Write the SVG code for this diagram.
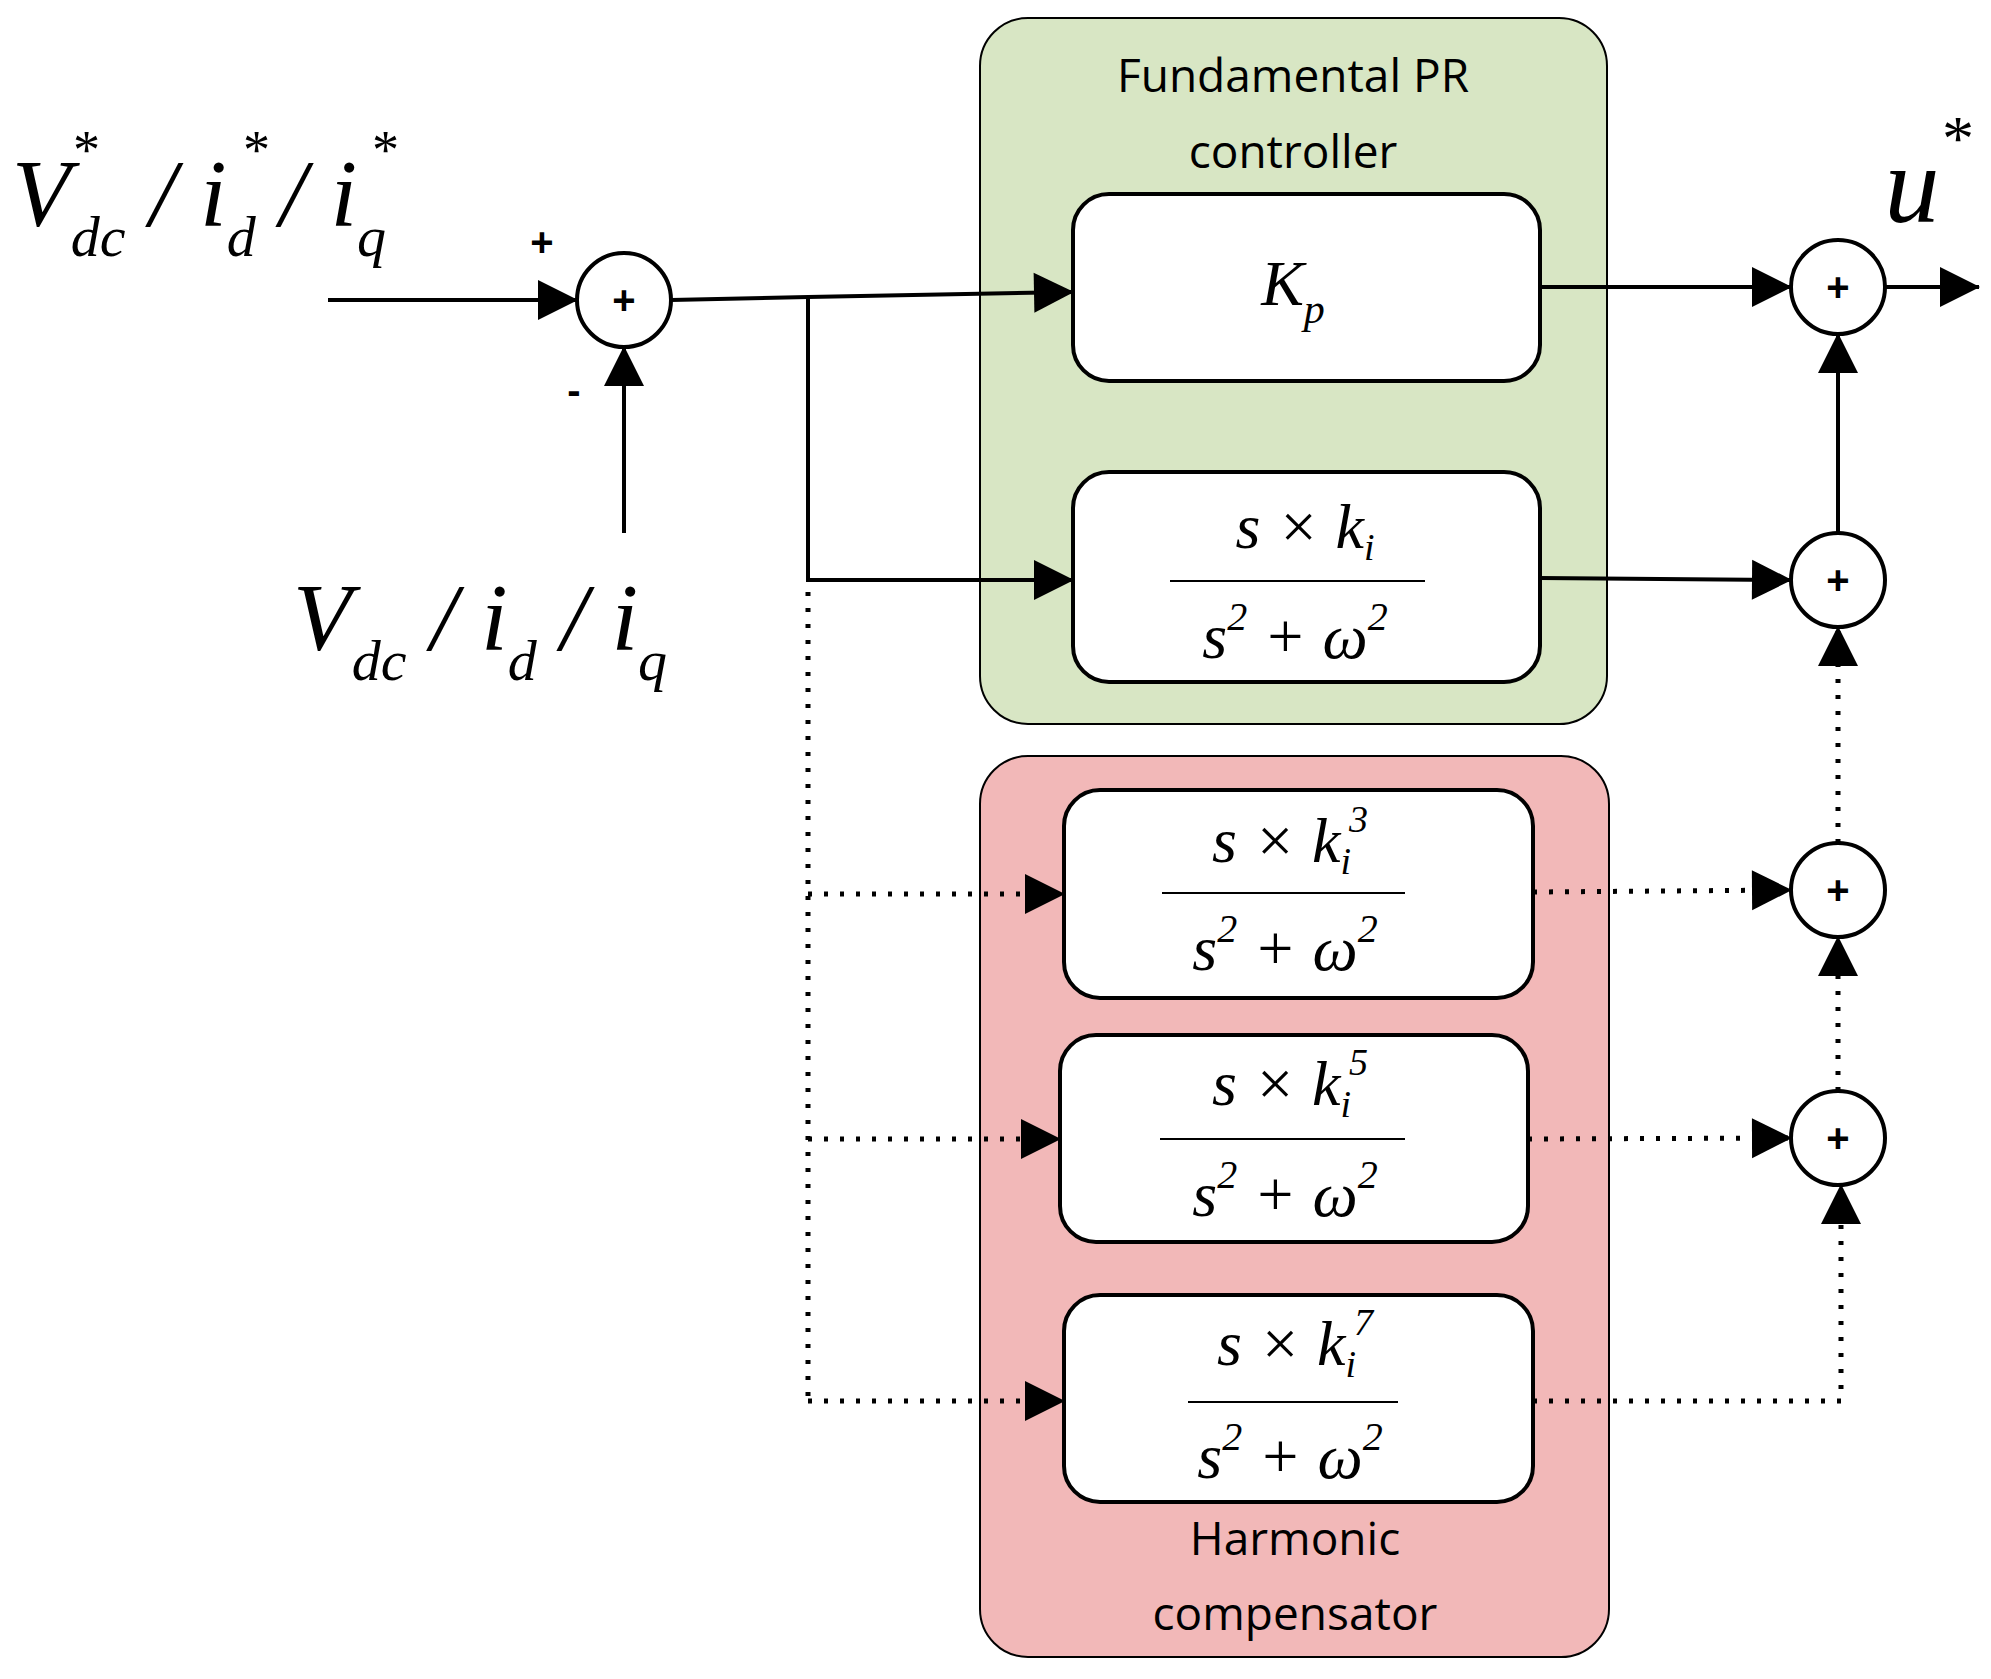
<svg xmlns="http://www.w3.org/2000/svg" width="1991" height="1679" viewBox="0 0 1991 1679">
<style>
.blk{fill:#fff;stroke:#000;stroke-width:4}
.sum{fill:#fff;stroke:#000;stroke-width:4}
.ln{stroke:#000;stroke-width:4;fill:none}
.dt{stroke:#000;stroke-width:5;fill:none;stroke-dasharray:4 12}
.lbl{font-family:"Open Sans","Liberation Sans",sans-serif;font-size:46px;text-anchor:middle}
.m{font-family:"Liberation Serif",serif;font-style:italic;text-anchor:middle}
.pl{font-family:"Liberation Sans",sans-serif;font-weight:bold;font-size:40px;text-anchor:middle}
</style>
<defs>
<marker id="a" markerWidth="10" markerHeight="10" refX="9" refY="5" orient="auto" markerUnits="userSpaceOnUse" viewBox="0 0 10 10" style="overflow:visible"><path d="M-30,-15 L10,5 L-30,25 Z"/></marker>
</defs>
<rect width="1991" height="1679" fill="#fff"/>
<g id="fundamental">
<rect x="980" y="18" width="627" height="706" rx="48" fill="#d8e6c4" stroke="#000" stroke-width="2"/>
<text class="lbl" x="1293" y="92">Fundamental PR</text>
<text class="lbl" x="1293" y="168">controller</text>
</g>
<g id="harmonic">
<rect x="980" y="756" width="629" height="901" rx="48" fill="#f2b8b8" stroke="#000" stroke-width="2"/>
<text class="lbl" x="1295" y="1555">Harmonic</text>
<text class="lbl" x="1295" y="1630">compensator</text>
</g>
<g id="kp"><rect class="blk" x="1073" y="194" width="467" height="187" rx="36"/>
<text class="m" x="1293" y="305" font-size="64">K<tspan font-size="42" dy="18">p</tspan></text></g>
<g id="fund-r"><rect class="blk" x="1073" y="472" width="467" height="210" rx="36"/>
<text class="m" x="1305" y="548" font-size="64">s × k<tspan font-size="38" dy="12">i</tspan></text>
<line x1="1170" y1="581" x2="1425" y2="581" stroke="#000" stroke-width="2"/>
<text class="m" x="1295" y="658" font-size="64">s<tspan font-size="40" dy="-28">2</tspan><tspan dy="28"> + ω</tspan><tspan font-size="40" dy="-28">2</tspan></text></g>
<g id="h3"><rect class="blk" x="1064" y="790" width="469" height="208" rx="36"/>
<text class="m" x="1290" y="862" font-size="64">s × k<tspan font-size="38" dy="12">i</tspan><tspan font-size="38" dx="-2" dy="-42">3</tspan></text>
<line x1="1162" y1="893" x2="1405" y2="893" stroke="#000" stroke-width="2"/>
<text class="m" x="1285" y="970" font-size="64">s<tspan font-size="40" dy="-28">2</tspan><tspan dy="28"> + ω</tspan><tspan font-size="40" dy="-28">2</tspan></text></g>
<g id="h5"><rect class="blk" x="1060" y="1035" width="468" height="207" rx="36"/>
<text class="m" x="1290" y="1105" font-size="64">s × k<tspan font-size="38" dy="12">i</tspan><tspan font-size="38" dx="-2" dy="-42">5</tspan></text>
<line x1="1160" y1="1139" x2="1405" y2="1139" stroke="#000" stroke-width="2"/>
<text class="m" x="1285" y="1216" font-size="64">s<tspan font-size="40" dy="-28">2</tspan><tspan dy="28"> + ω</tspan><tspan font-size="40" dy="-28">2</tspan></text></g>
<g id="h7"><rect class="blk" x="1064" y="1295" width="469" height="207" rx="36"/>
<text class="m" x="1295" y="1365" font-size="64">s × k<tspan font-size="38" dy="12">i</tspan><tspan font-size="38" dx="-2" dy="-42">7</tspan></text>
<line x1="1188" y1="1402" x2="1398" y2="1402" stroke="#000" stroke-width="2"/>
<text class="m" x="1290" y="1478" font-size="64">s<tspan font-size="40" dy="-28">2</tspan><tspan dy="28"> + ω</tspan><tspan font-size="40" dy="-28">2</tspan></text></g>
<g id="sum1"><circle class="sum" cx="624" cy="300" r="47"/><text class="pl" x="624" y="314">+</text></g>
<g id="sumA"><circle class="sum" cx="1838" cy="287" r="47"/><text class="pl" x="1838" y="301">+</text></g>
<g id="sumB"><circle class="sum" cx="1838" cy="580" r="47"/><text class="pl" x="1838" y="594">+</text></g>
<g id="sumC"><circle class="sum" cx="1838" cy="890" r="47"/><text class="pl" x="1838" y="904">+</text></g>
<g id="sumD"><circle class="sum" cx="1838" cy="1138" r="47"/><text class="pl" x="1838" y="1152">+</text></g>
<g id="labels">
<text class="m" x="12" y="226" font-size="96" style="text-anchor:start">V<tspan font-size="58" dy="30">dc</tspan><tspan dy="-30"> / i</tspan><tspan font-size="58" dy="30">d</tspan><tspan dy="-30"> / i</tspan><tspan font-size="58" dy="30">q</tspan></text>
<text class="m" x="84" y="168" font-size="54">*</text>
<text class="m" x="254" y="168" font-size="54">*</text>
<text class="m" x="383" y="168" font-size="54">*</text>
<text class="m" x="293" y="650" font-size="96" style="text-anchor:start">V<tspan font-size="58" dy="30">dc</tspan><tspan dy="-30"> / i</tspan><tspan font-size="58" dy="30">d</tspan><tspan dy="-30"> / i</tspan><tspan font-size="58" dy="30">q</tspan></text>
<text class="m" x="1912" y="222" font-size="110">u</text>
<text class="m" x="1955" y="160" font-size="64">*</text>
<text class="pl" x="542" y="256" font-size="40">+</text>
<text class="pl" x="574" y="404" font-size="48">-</text>
</g>
<g id="connectors">
<line class="ln" x1="328" y1="300" x2="577" y2="300" marker-end="url(#a)"/>
<line class="ln" x1="624" y1="533" x2="624" y2="347" marker-end="url(#a)"/>
<polyline class="ln" points="671,300 808,297 1073,292" marker-end="url(#a)"/>
<polyline class="ln" points="808,297 808,580 1073,580" marker-end="url(#a)"/>
<line class="dt" x1="808" y1="592" x2="808" y2="1401"/>
<line class="dt" x1="808" y1="894" x2="1064" y2="894" marker-end="url(#a)"/>
<line class="dt" x1="808" y1="1139" x2="1060" y2="1139" marker-end="url(#a)"/>
<line class="dt" x1="808" y1="1401" x2="1064" y2="1401" marker-end="url(#a)"/>
<line class="ln" x1="1540" y1="287" x2="1791" y2="287" marker-end="url(#a)"/>
<line class="ln" x1="1540" y1="578" x2="1791" y2="580" marker-end="url(#a)"/>
<line class="dt" x1="1533" y1="892" x2="1791" y2="890" marker-end="url(#a)"/>
<line class="dt" x1="1528" y1="1139" x2="1791" y2="1138" marker-end="url(#a)"/>
<polyline class="dt" points="1533,1401 1841,1401 1841,1185" marker-end="url(#a)"/>
<line class="dt" x1="1838" y1="1091" x2="1838" y2="937" marker-end="url(#a)"/>
<line class="dt" x1="1838" y1="843" x2="1838" y2="627" marker-end="url(#a)"/>
<line class="ln" x1="1838" y1="533" x2="1838" y2="334" marker-end="url(#a)"/>
<line class="ln" x1="1885" y1="287" x2="1979" y2="287" marker-end="url(#a)"/>
</g>
</svg>
